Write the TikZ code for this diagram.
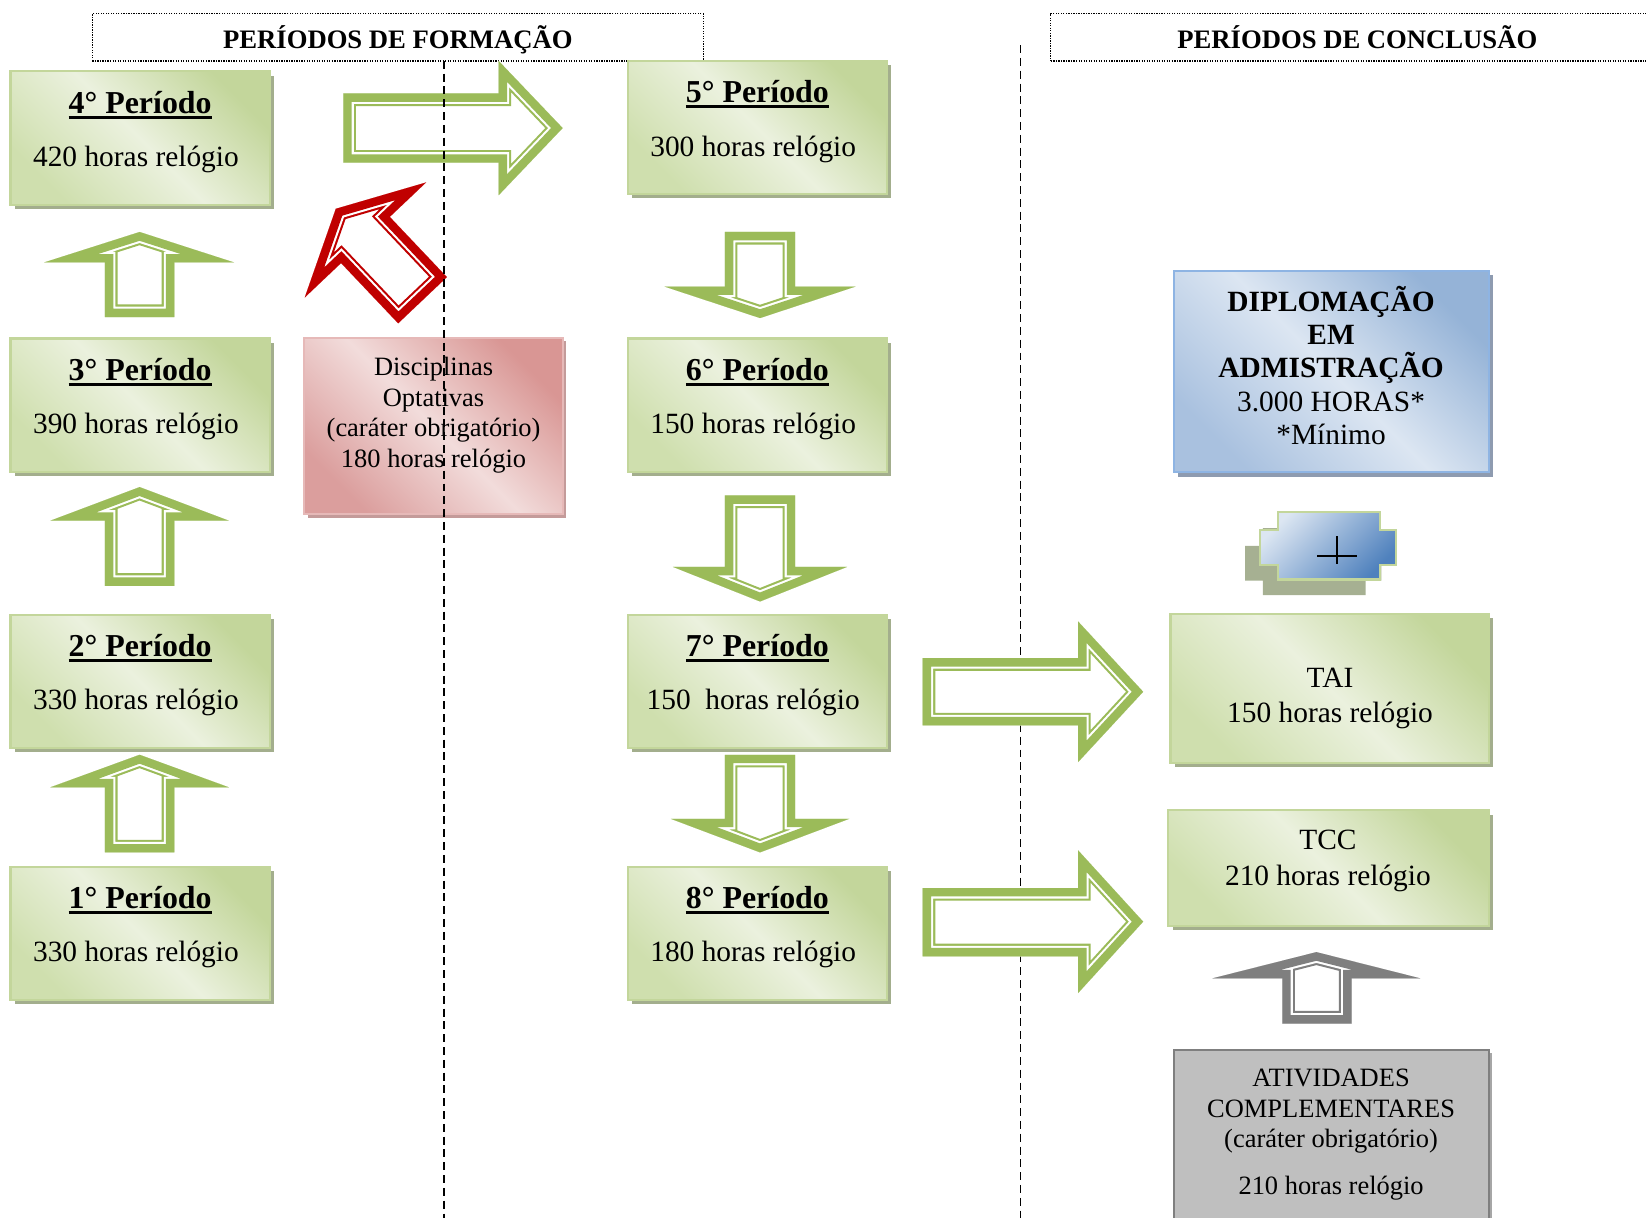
\documentclass[tikz,border=0pt]{standalone}
\usepackage{fontspec}
\setmainfont{Liberation Serif}
\usetikzlibrary{shadows,calc}
\definecolor{gDark}{HTML}{C3D69B}
\definecolor{gMid}{HTML}{CFDFAE}
\definecolor{gLight}{HTML}{EBF1DE}
\definecolor{gBorder}{HTML}{C3D69B}
\definecolor{gShadow}{HTML}{A3AE8D}
\definecolor{arrGreen}{HTML}{9BBB59}
\definecolor{rDark}{HTML}{D99694}
\definecolor{rMid}{HTML}{DB9E9D}
\definecolor{rLight}{HTML}{F2DCDB}
\definecolor{rBorder}{HTML}{E6B9B8}
\definecolor{rShadow}{HTML}{C49B9A}
\definecolor{arrRed}{HTML}{C00000}
\definecolor{bDark}{HTML}{95B3D7}
\definecolor{bMid}{HTML}{A9C1DF}
\definecolor{bLight}{HTML}{DCE6F2}
\definecolor{bBorder}{HTML}{8EB4E3}
\definecolor{bShadow}{HTML}{8E9BB0}
\definecolor{plusDark}{HTML}{4F81BD}
\definecolor{plusShadow}{HTML}{A6B092}
\definecolor{arrGray}{HTML}{7F7F7F}
\definecolor{boxGray}{HTML}{BFBFBF}
\newcommand\ulbold[1]{\setbox0\hbox{#1}\rlap{\rule[-2.6pt]{\wd0}{1.4pt}}\box0}
\newcommand\blockarrow[2]{%
  \begin{scope}
    \clip #2 -- cycle;
    \fill[white] #2 -- cycle;
    \draw[#1, line width=12pt, line join=miter, miter limit=30] #2 -- cycle;
    \draw[white, line width=10pt, line join=miter, miter limit=30] #2 -- cycle;
    \draw[#1, line width=8pt, line join=miter, miter limit=30] #2 -- cycle;
  \end{scope}}
\newcommand\periodbox[5]{%
  \node[gbox, minimum width=123.5pt, minimum height=63.5pt] (#1) at (#2,#3) {};
  \node[ttl] (#1-t) at ($(#1.center)+(0,-31.5)$) {\ulbold{#4}};
  \node[hrs] (#1-h) at ($(#1.center)+(-4,20.5)$) {#5};}
\begin{document}
\begin{tikzpicture}[x=0.5pt,y=-0.5pt,
  gbox/.style={rectangle, draw=gBorder, line width=1pt, inner sep=0pt,
    left color=gMid, right color=gDark, middle color=gLight, shading angle=135,
    drop shadow={shadow xshift=2pt, shadow yshift=-2pt, fill=gShadow, opacity=1}},
  rbox/.style={rectangle, draw=rBorder, line width=1pt, inner sep=0pt,
    left color=rMid, right color=rDark, middle color=rLight, shading angle=135,
    drop shadow={shadow xshift=1.5pt, shadow yshift=-1.5pt, fill=rShadow, opacity=1}},
  bbox/.style={rectangle, draw=bBorder, line width=1pt, inner sep=0pt,
    left color=bMid, right color=bDark, middle color=bLight, shading angle=135,
    drop shadow={shadow xshift=2pt, shadow yshift=-2pt, fill=bShadow, opacity=1}},
  graybox/.style={rectangle, draw=arrGray, line width=1pt, fill=boxGray, inner sep=0pt,
    drop shadow={shadow xshift=1.5pt, shadow yshift=-1.5pt, fill=black!35, opacity=1}},
  hdr/.style={rectangle, draw, line width=0.6pt, dash pattern=on 0.6pt off 0.6pt,
    font=\fontsize{12.7}{15}\selectfont\bfseries, minimum height=22.5pt, inner sep=0pt,
    text height=12pt, text depth=1.1pt},
  ttl/.style={font=\fontsize{15.2}{18}\selectfont\bfseries, inner sep=0pt},
  hrs/.style={font=\fontsize{14}{17}\selectfont, inner sep=0pt},
  txt/.style={align=center, inner sep=0pt},
  divider/.style={line width=0.75pt, dash pattern=on 3.8pt off 2.3pt}]
\useasboundingbox (0,0) rectangle (1568,1160);
\clip (0,0) rectangle (1568,1160);

% headers
\node[hdr, minimum width=291pt] (hF) at (379,35.5) {PERÍODOS DE FORMAÇÃO};
\node[hdr, minimum width=292pt] (hC) at (1293,35.5) {PERÍODOS DE CONCLUSÃO};

% second divider (under the arrows)
\coordinate (d2top) at (972,43);
\coordinate (d2bot) at (972,1165);
\draw[divider] (d2top) -- (d2bot);

% period boxes
\periodbox{p4}{133.5}{131.5}{4° Período}{420 horas relógio}
\periodbox{p3}{133.5}{386}{3° Período}{390 horas relógio}
\periodbox{p2}{133.5}{649}{2° Período}{330 horas relógio}
\periodbox{p1}{133.5}{889}{1° Período}{330 horas relógio}
\periodbox{p5}{721.5}{121.5}{5° Período}{300 horas relógio}
\periodbox{p6}{721.5}{386}{6° Período}{150 horas relógio}
\periodbox{p7}{721.5}{649}{7° Período}{150\ \ horas relógio}
\periodbox{p8}{721.5}{889}{8° Período}{180 horas relógio}

% optional disciplines
\node[rbox, minimum width=123pt, minimum height=84pt] (opt) at (413,406) {};
\node[txt, font=\fontsize{12.6}{14.7}\selectfont] (opt-t) at (413,395.5)
  {Disciplinas\\Optativas\\(caráter obrigatório)\\180 horas relógio};

% diploma
\node[bbox, minimum width=150pt, minimum height=96pt] (dip) at (1268,354) {};
\node[txt, font=\fontsize{14}{15.9}\selectfont] (dip-t) at (1268,348)
  {\textbf{DIPLOMAÇÃO}\\\textbf{EM}\\\textbf{ADMISTRAÇÃO}\\3.000 HORAS*\\*Mínimo};

% plus plaque
\fill[plusShadow, shift={(-14,15)}] (1217,488) -- (1315,488) -- (1315,505) -- (1330,505)
  -- (1330,538) -- (1315,538) -- (1315,552) -- (1217,552) -- (1217,538) -- (1200,538)
  -- (1200,505) -- (1217,505) -- cycle;
\path[draw=gBorder, line width=1pt, left color=bLight, right color=plusDark, shading angle=45]
  (1217,488) -- (1315,488) -- (1315,505) -- (1330,505)
  -- (1330,538) -- (1315,538) -- (1315,552) -- (1217,552) -- (1217,538) -- (1200,538)
  -- (1200,505) -- (1217,505) -- cycle;
\coordinate (plusL) at (1255,530); \coordinate (plusR) at (1293,530);
\coordinate (plusT) at (1273.5,511); \coordinate (plusB) at (1273.5,537.5);
\draw[line width=1pt] (plusL) -- (plusR);
\draw[line width=1pt] (plusT) -- (plusB);

% TAI, TCC, activities
\node[gbox, minimum width=151.5pt, minimum height=71pt] (tai) at (1266.5,656) {};
\node[txt, font=\fontsize{14}{17}\selectfont] (tai-t) at (1267,665.5) {TAI\\150 horas relógio};
\node[gbox, minimum width=152.5pt, minimum height=55pt] (tcc) at (1265.5,827) {};
\node[txt, font=\fontsize{14}{17}\selectfont] (tcc-t) at (1265,820) {TCC\\210 horas relógio};
\node[graybox, minimum width=150pt, minimum height=84pt] (ativ) at (1268,1084) {};
\node[txt, font=\fontsize{12.6}{14.5}\selectfont] (ativ-t) at (1268,1081)
  {ATIVIDADES\\COMPLEMENTARES\\(caráter obrigatório)\\[8pt]210 horas relógio};

% up arrows (left column)
\blockarrow{arrGreen}{(100,302) -- (100,250) -- (42,250) -- (133,221) -- (223,250) -- (166,250) -- (166,302)}
\blockarrow{arrGreen}{(100,558) -- (100,496) -- (48,496) -- (133,464) -- (218,496) -- (166,496) -- (166,558)}
\blockarrow{arrGreen}{(100,812) -- (100,750) -- (48,750) -- (133,719) -- (218,750) -- (166,750) -- (166,812)}
% down arrows (middle column)
\blockarrow{arrGreen}{(690.5,221) -- (757.5,221) -- (757.5,273) -- (815,273) -- (724,303) -- (633,273) -- (690.5,273)}
\blockarrow{arrGreen}{(690.5,472) -- (757.5,472) -- (757.5,540) -- (807,540) -- (724,573) -- (641,540) -- (690.5,540)}
\blockarrow{arrGreen}{(690.5,719) -- (757.5,719) -- (757.5,780) -- (809,780) -- (724,812) -- (639,780) -- (690.5,780)}
% right arrows
\blockarrow{arrGreen}{(327,89) -- (475,89) -- (475,58) -- (536,122) -- (475,186) -- (475,155) -- (327,155)}
\blockarrow{arrGreen}{(879,627) -- (1027,627) -- (1027,592) -- (1089,659) -- (1027,726) -- (1027,691) -- (879,691)}
\blockarrow{arrGreen}{(879,846) -- (1027,846) -- (1027,810) -- (1089,878) -- (1027,946) -- (1027,911) -- (879,911)}
% red diagonal arrow
\blockarrow{arrRed}{(379.3,308) -- (324.9,250.6) -- (290.3,283.4) -- (319.9,198.9) -- (405.9,173.8) -- (371.3,206.6) -- (425.7,264)}
% gray arrow
\blockarrow{arrGray}{(1221.5,975) -- (1221.5,932) -- (1155,932) -- (1254,907) -- (1353,932) -- (1287.5,932) -- (1287.5,975)}

% first divider (over the arrows)
\coordinate (d1top) at (423,58);
\coordinate (d1bot) at (423,1165);
\draw[divider] (d1top) -- (d1bot);
\end{tikzpicture}
\end{document}
